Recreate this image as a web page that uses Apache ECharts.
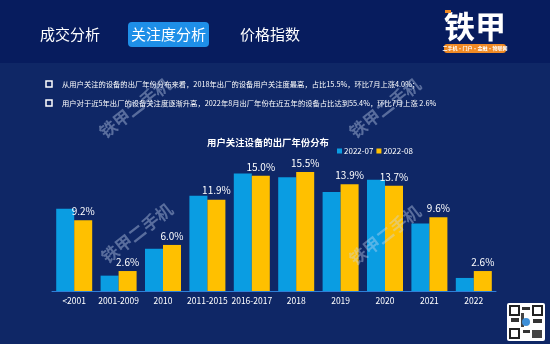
<!DOCTYPE html>
<html><head><meta charset="utf-8">
<script src="https://cdn.jsdelivr.net/npm/echarts@6/dist/echarts.min.js"></script>
<style>html,body{margin:0;padding:0;background:#0f2766;}#c{width:550px;height:344px;}</style>
</head><body><div id="c"></div>
<script>
const categories = ['<2001','2001-2009','2010','2011-2015','2016-2017','2018','2019','2020','2021','2022'];
const seriesNames = ['2022-07','2022-08'];
const julyValues = [10.7, 2.0, 5.5, 12.4, 15.3, 14.8, 12.9, 14.5, 8.8, 1.7];
const augValues = [9.2, 2.6, 6.0, 11.9, 15.0, 15.5, 13.9, 13.7, 9.6, 2.6];
const tabs = ['成交分析','关注度分析','价格指数'];
const bullets = [
  '从用户关注的设备的出厂年份分布来看，2018年出厂的设备用户关注度最高，占比15.5%，环比7月上涨4.0%；',
  '用户对于近5年出厂的设备关注度逐渐升高，2022年8月出厂年份在近五年的设备占比达到55.4%，环比7月上涨 2.6%'
];
const chartTitle = '用户关注设备的出厂年份分布';
const watermark = '铁甲二手机';

const FONT = '"Noto Sans CJK SC","Noto Sans",sans-serif';
const chart = echarts.init(document.getElementById('c'));

const graphics = [
  {type:'rect', shape:{x:0,y:0,width:550,height:63}, style:{fill:'#071c5e'}, z:-10},
  {type:'rect', shape:{x:128,y:22,width:81,height:25,r:4}, style:{fill:'#1e8fe8'}},
  {type:'text', style:{text:tabs[0], x:40, y:34, fill:'#ffffff', font:'15px '+FONT, verticalAlign:'middle'}},
  {type:'text', style:{text:tabs[1], x:168.5, y:34, fill:'#ffffff', font:'15px '+FONT, verticalAlign:'middle', align:'center'}},
  {type:'text', style:{text:tabs[2], x:240, y:34, fill:'#ffffff', font:'15px '+FONT, verticalAlign:'middle'}},
  // logo
  {type:'text', style:{text:'铁甲', x:475, y:26, fill:'#ffffff', font:'bold 31px '+FONT, align:'center', verticalAlign:'middle'}},
  {type:'rect', shape:{x:445,y:10,width:6,height:3}, style:{fill:'#f08a24'}},
  {type:'rect', shape:{x:444,y:44,width:62,height:9,r:3}, style:{fill:'#f08a24'}},
  {type:'text', style:{text:'二手机·门户·金融·物联网', x:475, y:48.5, fill:'#ffffff', font:'bold 5px '+FONT, align:'center', verticalAlign:'middle'}},
  // title
  {type:'text', style:{text:chartTitle, x:268, y:142, fill:'#ffffff', font:'bold 9.4px '+FONT, align:'center', verticalAlign:'middle'}},
  // qr code
  {type:'rect', shape:{x:507,y:303,width:38,height:38,r:2}, style:{fill:'#ffffff'}},
  {type:'rect', shape:{x:510,y:306,width:9,height:9}, style:{fill:'none',stroke:'#222',lineWidth:2}},
  {type:'rect', shape:{x:533,y:306,width:9,height:9}, style:{fill:'none',stroke:'#222',lineWidth:2}},
  {type:'rect', shape:{x:510,y:329,width:9,height:9}, style:{fill:'none',stroke:'#222',lineWidth:2}},
  {type:'rect', shape:{x:522,y:307,width:8,height:3}, style:{fill:'#333'}},
  {type:'rect', shape:{x:511,y:318,width:8,height:4}, style:{fill:'#333'}},
  {type:'rect', shape:{x:533,y:319,width:9,height:4}, style:{fill:'#333'}},
  {type:'rect', shape:{x:523,y:330,width:7,height:3}, style:{fill:'#333'}},
  {type:'rect', shape:{x:532,y:330,width:10,height:8}, style:{fill:'#444'}},
  {type:'rect', shape:{x:521,y:313,width:3,height:14}, style:{fill:'#444'}},
  {type:'circle', shape:{cx:526,cy:322,r:4}, style:{fill:'#3d8fd8'}}
];
bullets.forEach((t,i)=>{
  const y = 84 + i*19;
  graphics.push({type:'rect', shape:{x:46,y:y-3,width:6,height:6}, style:{fill:'none',stroke:'#ffffff',lineWidth:1.5}});
  graphics.push({type:'text', style:{text:t, x:62, y:y, fill:'#ffffff', font:'7.3px '+FONT, verticalAlign:'middle'}});
});
[[135,108],[385,108],[137,233],[385,235]].forEach(p=>{
  graphics.push({type:'text', x:p[0], y:p[1], rotation:Math.PI*38/180,
    style:{text:watermark, x:0, y:0, fill:'rgba(200,215,240,0.4)', font:'bold 17px '+FONT, align:'center', verticalAlign:'middle'}, z:100});
});

chart.setOption({
  backgroundColor:'#0f2766',
  animation:false,
  graphic:graphics,
  legend:{
    data:seriesNames, left:332, top:142, itemWidth:5, itemHeight:5, itemGap:3,
    icon:'rect',
    textStyle:{color:'#ffffff', fontSize:8, fontFamily:FONT, padding:[0,0,0,-3]}
  },
  grid:{left:52, right:54, top:152.8, bottom:53},
  xAxis:{
    type:'category', data:categories,
    axisLine:{lineStyle:{color:'#2f7fd8', width:1}},
    axisTick:{show:false},
    axisLabel:{color:'#ffffff', fontSize:8.5, fontFamily:FONT, margin:6, interval:0}
  },
  yAxis:{type:'value', min:0, max:18, show:false, splitLine:{show:false}},
  series:[
    {name:seriesNames[0], type:'bar', data:julyValues, barWidth:18, barGap:'0%',
     itemStyle:{color:'#0a9de2'}},
    {name:seriesNames[1], type:'bar', data:augValues, barWidth:18,
     itemStyle:{color:'#ffc000'},
     label:{show:true, position:'top', distance:4, color:'#ffffff', fontSize:10, fontFamily:FONT,
       formatter:p=>p.value.toFixed(1)+'%'}}
  ]
});
</script></body></html>
